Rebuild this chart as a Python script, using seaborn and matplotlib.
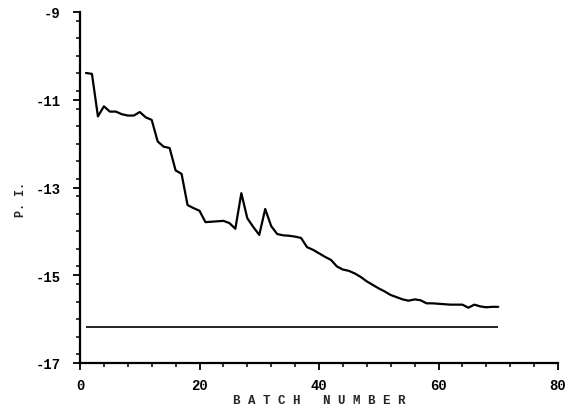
import numpy as np
import pandas as pd
import matplotlib
matplotlib.use("Agg")
import matplotlib.pyplot as plt
from matplotlib.ticker import MultipleLocator
import seaborn as sns

# Performance index per batch
batch = list(range(1, 71))
performance_index = [
    -10.39, -10.41, -11.38, -11.15, -11.27, -11.27, -11.33, -11.36, -11.36, -11.28,
    -11.40, -11.46, -11.95, -12.07, -12.10, -12.61, -12.69, -13.40, -13.47, -13.53,
    -13.79, -13.78, -13.77, -13.76, -13.81, -13.94, -13.13, -13.70, -13.90, -14.08,
    -13.49, -13.88, -14.06, -14.09, -14.10, -14.12, -14.15, -14.36, -14.42, -14.50,
    -14.58, -14.65, -14.80, -14.87, -14.90, -14.96, -15.04, -15.14, -15.22, -15.30,
    -15.37, -15.45, -15.50, -15.55, -15.58, -15.55, -15.57, -15.64, -15.64, -15.65,
    -15.66, -15.67, -15.67, -15.67, -15.74, -15.67, -15.71, -15.73, -15.72, -15.72,
]
# Optimum level shown as a flat line
optimum_level = -16.18

x_ticks = [0, 20, 40, 60, 80]
y_ticks = [-9, -11, -13, -15, -17]

sns.set_theme(style="white")
plt.rcParams["font.family"] = ["Liberation Mono", "DejaVu Sans Mono"]
plt.rcParams["font.weight"] = "bold"

df = pd.DataFrame({"batch": batch, "pi": performance_index})

fig = plt.figure(figsize=(5.8, 4.1), dpi=100)
ax = fig.add_axes([80 / 580, 1 - 364 / 410, (558 - 80) / 580, (364 - 13) / 410])

sns.lineplot(data=df, x="batch", y="pi", ax=ax, color="black", linewidth=1.6)
ax.hlines(optimum_level, batch[0], batch[-1], color="black", linewidth=1.2)

ax.set_xlim(0, 80)
ax.set_ylim(-17, -9)
ax.set_xticks(x_ticks)
ax.set_yticks(y_ticks)
ax.set_xticklabels([str(v) for v in x_ticks], fontsize=10, fontweight="bold")
ax.set_yticklabels([str(v) for v in y_ticks], fontsize=10, fontweight="bold")
ax.xaxis.set_minor_locator(MultipleLocator(4))
ax.yaxis.set_minor_locator(MultipleLocator(0.4))

for side in ("top", "right"):
    ax.spines[side].set_visible(False)
for side in ("left", "bottom"):
    ax.spines[side].set_color("black")
    ax.spines[side].set_linewidth(1.6)

ax.tick_params(axis="both", which="major", direction="out", length=5, width=1.3,
               color="black", labelcolor="black")
ax.tick_params(axis="both", which="minor", direction="out", length=3, width=1.1,
               color="black")
ax.tick_params(axis="x", which="major", pad=6)
ax.tick_params(axis="y", which="major", pad=9)
ax.tick_params(axis="both", which="both", bottom=True, left=True)

ax.set_xlabel("B A T C H   N U M B E R", fontsize=9, fontweight="bold", labelpad=1)
ax.set_ylabel("P. I.", fontsize=8.5, fontweight="bold")
ax.yaxis.set_label_coords(-0.11, 0.47)
ax.grid(False)

fig.savefig("out.png", dpi=100, facecolor="white")
